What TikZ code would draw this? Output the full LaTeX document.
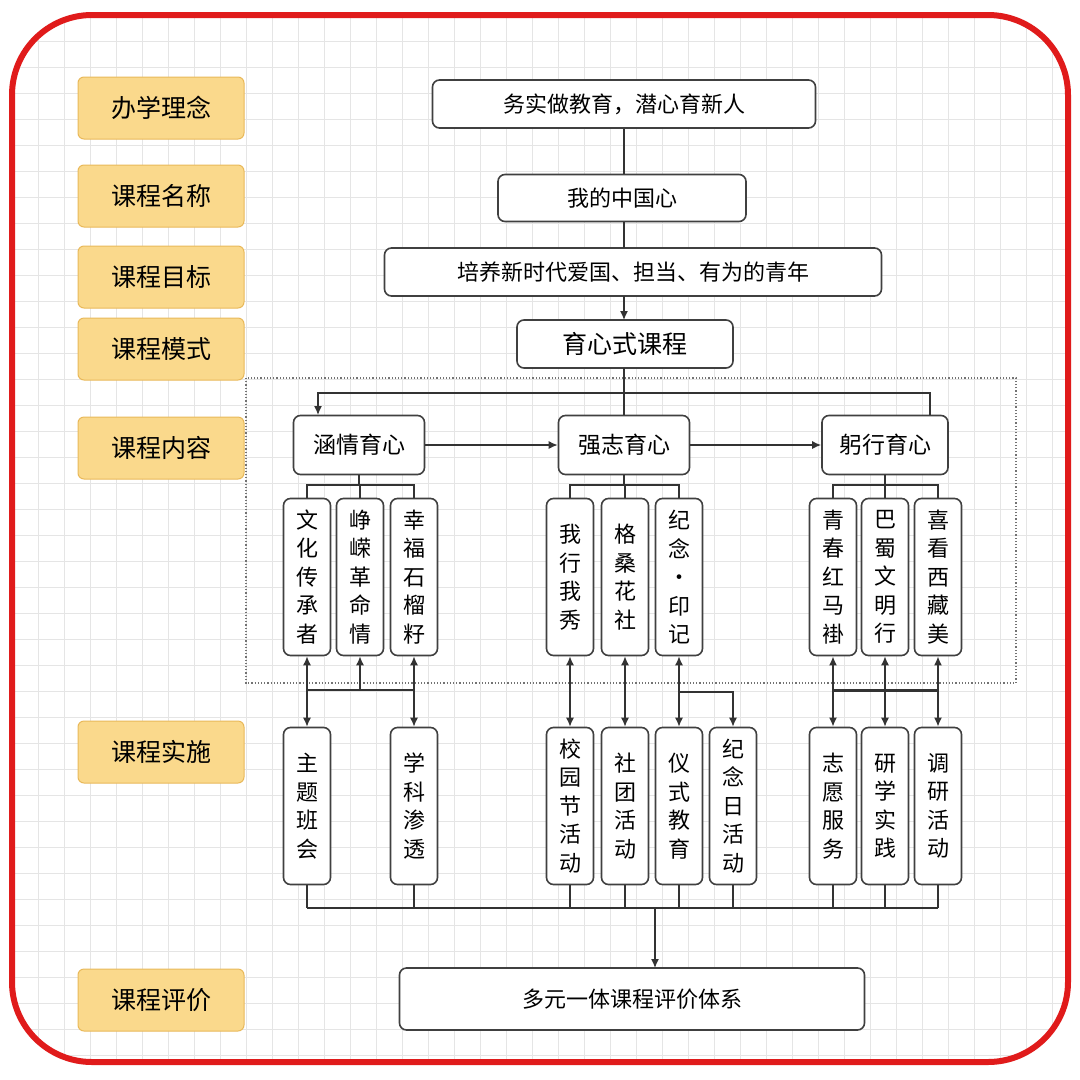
\documentclass[tikz,border=0pt]{standalone}
\usepackage{fontspec}
\setmainfont{Noto Sans CJK SC}
\usetikzlibrary{arrows.meta}
\definecolor{lab}{HTML}{FAD98C}
\definecolor{labd}{HTML}{E9B95A}
\definecolor{redb}{HTML}{E01B1B}
\tikzset{
 lbl/.style={draw=labd,fill=lab,rounded corners=6pt,minimum width=166pt,minimum height=62pt,font=\fontsize{25}{27}\selectfont,line width=1pt},
 bx/.style={draw=black!75,fill=white,rounded corners=7pt,line width=1.6pt,font=\fontsize{22}{24}\selectfont},
 vb/.style={draw=black!75,fill=white,rounded corners=7pt,line width=1.6pt,font=\fontsize{22}{28.5}\selectfont,minimum width=47pt,minimum height=157pt,align=center,inner sep=1pt},
 ln/.style={draw=black!80,line width=1.4pt},
 ar/.style={ln,-{Latex[length=9pt,width=8pt]}},
 da/.style={ln,{Latex[length=9pt,width=8pt]}-{Latex[length=9pt,width=8pt]}},
}
\begin{document}
\begin{tikzpicture}[x=1pt,y=-1pt]
\useasboundingbox (0,0) rectangle (1080,1080);
\fill[white] (0,0) rectangle (1080,1080);
\begin{scope}
\clip[rounded corners=80pt] (12,15) rectangle (1068,1062);
\foreach \i in {0,...,42} {\draw[black!10,line width=0.6pt] (12+26*\i,15) -- (12+26*\i,1062);
 \draw[black!10,line width=0.6pt] (12,15+26*\i) -- (1068,15+26*\i);}
\end{scope}
\draw[redb,line width=6pt,rounded corners=80pt] (12,15) rectangle (1068,1062);
% left labels
\node[lbl] (l1) at (161,108) {办学理念};
\node[lbl] (l2) at (161,196) {课程名称};
\node[lbl] (l3) at (161,277) {课程目标};
\node[lbl] (l4) at (161,349) {课程模式};
\node[lbl] (l5) at (161,448) {课程内容};
\node[lbl] (l6) at (161,752) {课程实施};
\node[lbl] (l7) at (161,1000) {课程评价};
% dotted region
\draw[black!55,dotted,line width=1.2pt] (246,378) rectangle (1016,683);
% top chain
\node[bx,minimum width=383pt,minimum height=48pt] (t1) at (624,104) {务实做教育，潜心育新人};
\node[bx,minimum width=248pt,minimum height=47pt] (t2) at (622,198) {我的中国心};
\node[bx,minimum width=497pt,minimum height=48pt] (t3) at (633,272) {培养新时代爱国、担当、有为的青年};
\node[bx,minimum width=216pt,minimum height=48pt,font=\fontsize{25}{27}\selectfont] (t4) at (625,344) {育心式课程};
\draw[ln] (t1.south) -- (t1.south|-t2.north);
\draw[ln] (624,222) -- (624,248);
\draw[ar] (624,296) -- (624,320);
% level 2
\node[bx,minimum width=131pt,minimum height=59pt,font=\fontsize{23}{25}\selectfont] (a) at (359,445) {涵情育心};
\node[bx,minimum width=131pt,minimum height=59pt,font=\fontsize{23}{25}\selectfont] (b) at (624,445) {强志育心};
\node[bx,minimum width=126pt,minimum height=59pt,font=\fontsize{23}{25}\selectfont] (c) at (885,445) {躬行育心};
\draw[ln] (624,368) -- (b.north);
\draw[ln] (624,393) -- (930,393) -- (930,415);
\draw[ar] (624,393) -- (318,393) -- (318,415);
\draw[ar] (a) -- (b);
\draw[ar] (b) -- (c);
% content boxes
\foreach \n/\x/\t in {a1/307/文\\化\\传\\承\\者, a2/360/峥\\嵘\\革\\命\\情, a3/414/幸\\福\\石\\榴\\籽,
 b1/570/我\\行\\我\\秀, b2/625/格\\桑\\花\\社, b3/679/纪\\念\\·\\印\\记,
 c1/833/青\\春\\红\\马\\褂, c2/885/巴\\蜀\\文\\明\\行, c3/938/喜\\看\\西\\藏\\美}
 \node[vb] (\n) at (\x,577) {\t};
\foreach \p/\l/\m/\r in {a/a1/a2/a3,b/b1/b2/b3,c/c1/c2/c3}{
 \draw[ln] (\p.south) -- (\p.south|-0,485);
 \draw[ln] (\l.north) -- (\l.north|-0,485) -- (\r.north|-0,485) -- (\r.north);
 \draw[ln] (\m.north) -- (\m.north|-0,485);
}
% implementation boxes
\foreach \n/\x/\t in {i1/307/主\\题\\班\\会, i2/414/学\\科\\渗\\透,
 j1/570/校\\园\\节\\活\\动, j2/625/社\\团\\活\\动, j3/679/仪\\式\\教\\育, j4/733/纪\\念\\日\\活\\动,
 k1/833/志\\愿\\服\\务, k2/885/研\\学\\实\\践, k3/938/调\\研\\活\\动}
 \node[vb] (\n) at (\x,806) {\t};
% group1
\draw[da] (a1.south) -- (i1.north);
\draw[da] (a3.south) -- (i2.north);
\draw[ln] (a1.south|-0,690) -- (a3.south|-0,690);
\draw[ar] (a2.south|-0,690) -- (a2.south);
% group2
\draw[da] (b1.south) -- (j1.north);
\draw[da] (b2.south) -- (j2.north);
\draw[da] (b3.south) -- (j3.north);
\draw[ar] (b3.south|-0,692) -- (j4.north|-0,692) -- (j4.north);
% group3
\draw[da,line width=2.6pt] (c1.south) -- (k1.north);
\draw[da] (c2.south) -- (k2.north);
\draw[da,line width=2.6pt] (c3.south) -- (k3.north);
\draw[ln,line width=3pt] (c1.south|-0,690) -- (c3.south|-0,690);
% bottom bus
\foreach \n in {i1,i2,j1,j2,j3,j4,k1,k2,k3} \draw[ln] (\n.south) -- (\n.south|-0,908);
\draw[ln] (i1.south|-0,908) -- (k3.south|-0,908);
\node[bx,minimum width=465pt,minimum height=62pt] (e) at (632,999) {多元一体课程评价体系};
\draw[ar] (655,908) -- (655,968);
\end{tikzpicture}
\end{document}
